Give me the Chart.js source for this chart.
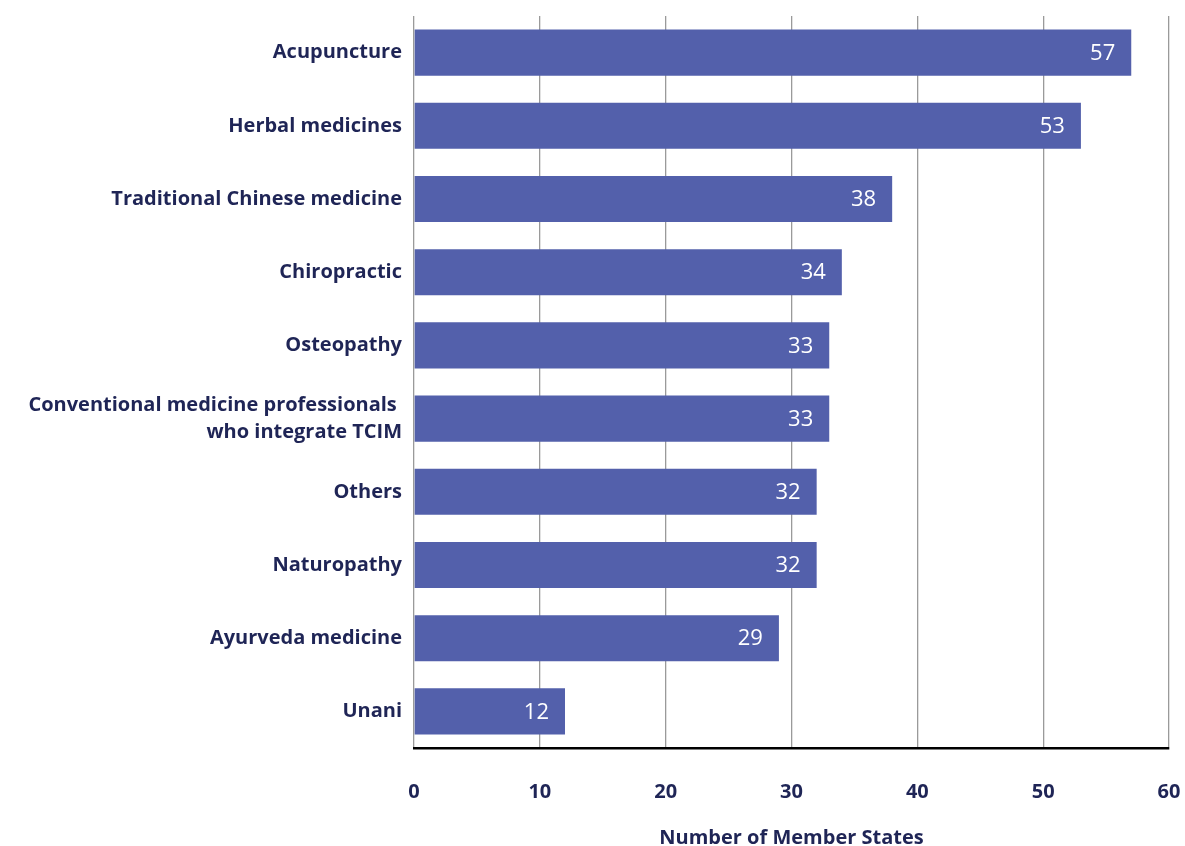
<!DOCTYPE html>
<html>
<head>
<meta charset="utf-8">
<script src="https://cdn.jsdelivr.net/npm/chart.js@4"></script>
<style>
  html, body { margin: 0; padding: 0; background: #fff; }
  #wrap { width: 1185px; height: 846px; }
</style>
</head>
<body>
<div id="wrap"><canvas id="chart"></canvas></div>
<script>
var categories = [
  'Acupuncture',
  'Herbal medicines',
  'Traditional Chinese medicine',
  'Chiropractic',
  'Osteopathy',
  ['Conventional medicine professionals ', 'who integrate TCIM'],
  'Others',
  'Naturopathy',
  'Ayurveda medicine',
  'Unani'
];
var memberStates = [57, 53, 38, 34, 33, 33, 32, 32, 29, 12];
var xTicks = [0, 10, 20, 30, 40, 50, 60];

var bar_clr = '#5360ab';
var text_clr = '#1f2556';
var font_family = '"Open Sans", Lato, sans-serif';

// white value label near the end of each bar
var valueLabels = {
  id: 'valueLabels',
  afterDatasetsDraw: function(chart) {
    var ctx = chart.ctx;
    var meta = chart.getDatasetMeta(0);
    ctx.save();
    ctx.fillStyle = '#ffffff';
    ctx.font = '22px ' + font_family;
    ctx.textAlign = 'right';
    ctx.textBaseline = 'middle';
    meta.data.forEach(function(bar, i) {
      ctx.fillText(String(memberStates[i]), bar.x - 16, bar.y + 1);
    });
    ctx.restore();
  }
};

var ctx = document.getElementById('chart');
window.myChart = new Chart(ctx, {
  type: 'bar',
  data: {
    labels: categories,
    datasets: [{
      data: memberStates,
      backgroundColor: bar_clr,
      borderWidth: 0,
      barPercentage: 0.63,
      categoryPercentage: 1
    }]
  },
  plugins: [valueLabels],
  options: {
    indexAxis: 'y',
    responsive: true,
    maintainAspectRatio: false,
    animation: false,
    layout: {
      padding: { top: 16, right: 16, left: 0, bottom: 0 }
    },
    scales: {
      x: {
        min: 0,
        max: 60,
        afterBuildTicks: function(scale) {
          scale.ticks = xTicks.map(function(v) { return {value: v}; });
        },
        afterFit: function(scale) {
          scale.height = 98;
          scale.paddingLeft = 0;
          scale.paddingRight = 0;
        },
        grid: {
          color: '#9a9a9a',
          lineWidth: 1.3,
          drawTicks: false
        },
        border: {
          display: true,
          color: '#000000',
          width: 2.5
        },
        ticks: {
          padding: 32,
          color: text_clr,
          font: { family: font_family, size: 20, weight: 'bold' }
        },
        title: {
          display: true,
          text: 'Number of Member States',
          color: text_clr,
          padding: { top: 0, bottom: -4 },
          font: { family: font_family, size: 20, weight: 'bold' }
        }
      },
      y: {
        afterFit: function(scale) {
          scale.width = 414;
          scale.paddingTop = 0;
          scale.paddingBottom = 0;
        },
        grid: { display: false, drawTicks: false },
        border: { display: false },
        ticks: {
          padding: 12,
          color: text_clr,
          font: { family: font_family, size: 20, weight: 'bold', lineHeight: 1.35 }
        }
      }
    },
    plugins: {
      legend: { display: false },
      tooltip: { enabled: false }
    }
  }
});
</script>
</body>
</html>
